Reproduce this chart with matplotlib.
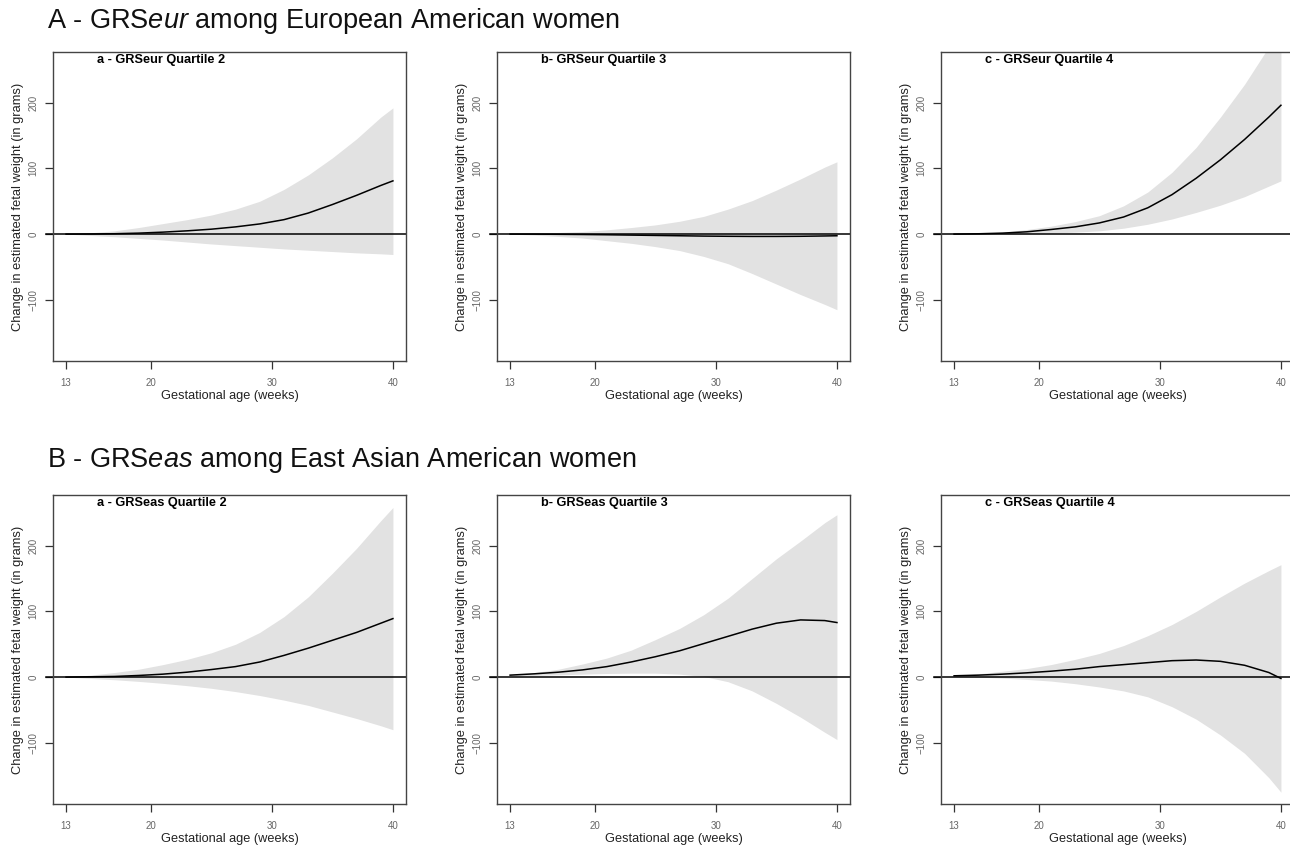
import numpy as np
import matplotlib
matplotlib.use("Agg")
import matplotlib.pyplot as plt

plt.rcParams['font.family'] = ['Liberation Sans', 'DejaVu Sans']
plt.rcParams['mathtext.fontset'] = 'custom'
plt.rcParams['mathtext.rm'] = 'Liberation Sans'
plt.rcParams['mathtext.it'] = 'Liberation Sans:italic'

# gestational age (weeks)
weeks = [13, 15, 17, 19, 21, 23, 25, 27, 29, 31, 33, 35, 37, 39, 40]

# A - GRSeur, European American women
eur_q2_mean = [0, 0.2, 0.6, 1.5, 3, 5, 7.5, 11, 15.5, 22, 32, 45, 59, 74, 81]
eur_q2_up = [0, 2, 5, 10, 16, 22, 29, 38, 50, 68, 90, 116, 145, 178, 192]
eur_q2_lo = [0, -2, -4, -6.5, -9, -12, -15, -17.5, -20, -22.5, -24.5, -26.5, -28.5, -30, -31]

eur_q3_mean = [0, 0, -0.3, -0.6, -1, -1.5, -2, -2.5, -3, -3.3, -3.5, -3.5, -3.3, -2.8, -2.5]
eur_q3_up = [0, 1, 2.5, 4, 6.5, 10, 14, 19.5, 27, 38, 51, 67, 84, 102, 110]
eur_q3_lo = [0, -1.5, -3.5, -6, -10, -14, -19, -25, -34, -45, -60, -76, -92, -107, -115]

eur_q4_mean = [0, 0.5, 1.5, 3.5, 7, 11, 17, 26, 40, 60, 85, 113, 144, 178, 196]
eur_q4_up = [0, 1, 3, 7, 12, 19, 28, 43, 64, 94, 132, 178, 228, 285, 312]
eur_q4_lo = [0, 0, 0.2, 0.5, 1.5, 3, 5, 9, 15, 23, 33, 44, 57, 73, 81]

# B - GRSeas, East Asian American women
eas_q2_mean = [0, 0.5, 1, 2.5, 4.5, 7.5, 11.5, 16, 23, 33, 44, 56, 68, 82, 89]
eas_q2_up = [0, 3, 7, 12, 19, 27, 37, 50, 68, 92, 122, 158, 196, 238, 258]
eas_q2_lo = [0, -2, -4, -6.5, -9.5, -13, -17, -22, -28, -35, -43, -53, -63, -74, -80]

eas_q3_mean = [3, 5, 7.5, 11, 16, 23, 31, 40, 51, 62, 73, 82, 87, 86, 83]
eas_q3_up = [3, 7, 12, 20, 29, 41, 57, 74, 95, 120, 150, 180, 207, 235, 247]
eas_q3_lo = [2, 2.5, 3.5, 4.5, 5.5, 6, 6, 4.5, 1, -7, -21, -40, -61, -84, -95]

eas_q4_mean = [2, 3, 4.5, 6.5, 9, 12, 16, 19, 22, 25, 26, 24, 18, 7, -2]
eas_q4_up = [2, 5, 9, 13, 19, 27, 36, 48, 63, 80, 100, 122, 143, 162, 171]
eas_q4_lo = [1, 0, -1.5, -3.5, -6, -10, -15, -21, -30, -45, -64, -88, -116, -153, -175]

panels = [
    ("a - GRSeur Quartile 2", eur_q2_mean, eur_q2_up, eur_q2_lo),
    ("b- GRSeur Quartile 3", eur_q3_mean, eur_q3_up, eur_q3_lo),
    ("c - GRSeur Quartile 4", eur_q4_mean, eur_q4_up, eur_q4_lo),
    ("a - GRSeas Quartile 2", eas_q2_mean, eas_q2_up, eas_q2_lo),
    ("b- GRSeas Quartile 3", eas_q3_mean, eas_q3_up, eas_q3_lo),
    ("c - GRSeas Quartile 4", eas_q4_mean, eas_q4_up, eas_q4_lo),
]

W, H = 1290, 851
fig = plt.figure(figsize=(W / 100, H / 100), dpi=100)

col_left = [53, 497, 941]
row_top = [52, 495]
box_w, box_h = 353, 309

for i, (title, mean, up, lo) in enumerate(panels):
    r, c = divmod(i, 3)
    ax = fig.add_axes([col_left[c] / W, 1 - (row_top[r] + box_h) / H,
                       box_w / W, box_h / H])
    ax.fill_between(weeks, lo, up, color='#e2e2e2', linewidth=0)
    ax.plot(weeks, mean, color='black', linewidth=1.1)
    ax.axhline(0, xmin=-0.02, xmax=1, color='black', linewidth=1.1, clip_on=False)
    ax.set_xlim(11.92, 41.08)
    ax.set_ylim(-193, 277)
    ax.set_xticks([13, 20, 30, 40])
    ax.set_yticks([-100, 0, 100, 200])
    ax.tick_params(axis='both', direction='out', length=5.5, width=0.9,
                   colors='#333333', labelcolor='#666666')
    ax.tick_params(axis='x', labelsize=7, pad=7)
    ax.tick_params(axis='y', labelsize=7, pad=5)
    for lab in ax.get_yticklabels():
        lab.set_rotation(90)
        lab.set_va('center')
    for sp in ax.spines.values():
        sp.set_color('#444444')
        sp.set_linewidth(1.0)
    ax.set_xlabel("Gestational age (weeks)", fontsize=9.2, color='#222222')
    ax.xaxis.set_label_coords(0.5, -0.094)
    ax.set_ylabel("Change in estimated fetal weight (in grams)", fontsize=9.3,
                  color='#222222')
    ax.yaxis.set_label_coords(-0.083, 0.5)
    ax.text(0.125, 0.974, title, transform=ax.transAxes, fontsize=9.2,
            fontweight='bold', va='center', ha='left')

fig.text(47 / W, 1 - 28 / H, r"A - GRS$\mathit{eur}$ among European American women",
         fontsize=19.5, va='baseline', ha='left', color='#111111')
fig.text(47 / W, 1 - 467 / H, r"B - GRS$\mathit{eas}$ among East Asian American women",
         fontsize=19.5, va='baseline', ha='left', color='#111111')

fig.savefig("out.png", dpi=100)
